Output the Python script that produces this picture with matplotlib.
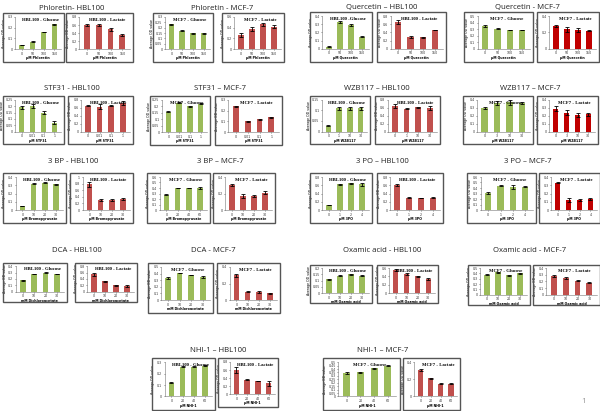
import matplotlib
matplotlib.use('Agg')
import numpy as np
from matplotlib import pyplot as plt
from matplotlib.patches import Rectangle

W, H = 600, 411
GREEN = '#9BBB59'
RED = '#C0504D'
DRED = '#C00000'

# DOSES (x tick labels)
phl_doses = ['0', '50', '100', '150']
que_doses = ['0', '50', '100', '150']
stf_doses = ['0', '0.01', '0.1', '1']
wzb_hbl_doses = ['0', '1', '10', '30']
wzb_mcf_doses = ['0', '3', '10', '30']
bp_doses = ['0', '10', '20', '30']
bp_mcf_glc_doses = ['0', '20', '40', '60']
po_doses = ['0', '1', '2', '4']
dca_doses = ['0', '10', '20', '30']
oxa_doses = ['0', '10', '20', '30']
nhi_doses = ['0', '20', '40', '60']

# VALUES (average OD) AND ERRORS
phl_hbl_glc = [0.04, 0.07, 0.16, 0.23]; phl_hbl_glc_err = [0.003, 0.004, 0.004, 0.008]
phl_hbl_lac = [0.60, 0.60, 0.49, 0.35]; phl_hbl_lac_err = [0.02, 0.02, 0.03, 0.02]
phl_mcf_glc = [0.23, 0.17, 0.15, 0.15]; phl_mcf_glc_err = [0.005, 0.005, 0.004, 0.004]
phl_mcf_lac = [0.27, 0.38, 0.46, 0.42]; phl_mcf_lac_err = [0.04, 0.04, 0.03, 0.03]
que_hbl_glc = [0.03, 0.33, 0.29, 0.15]; que_hbl_glc_err = [0.004, 0.01, 0.01, 0.01]
que_hbl_lac = [0.65, 0.29, 0.28, 0.46]; que_hbl_lac_err = [0.05, 0.02, 0.01, 0.01]
que_mcf_glc = [0.35, 0.31, 0.29, 0.29]; que_mcf_glc_err = [0.01, 0.005, 0.005, 0.005]
que_mcf_lac = [0.28, 0.24, 0.23, 0.22]; que_mcf_lac_err = [0.01, 0.03, 0.02, 0.005]

stf_hbl_glc = [0.19, 0.20, 0.15, 0.07]; stf_hbl_glc_err = [0.015, 0.015, 0.015, 0.01]
stf_hbl_lac = [0.65, 0.63, 0.65, 0.72]; stf_hbl_lac_err = [0.01, 0.07, 0.01, 0.06]
stf_mcf_glc = [0.16, 0.23, 0.20, 0.22]; stf_mcf_glc_err = [0.004, 0.005, 0.004, 0.005]
stf_mcf_lac = [0.24, 0.10, 0.12, 0.14]; stf_mcf_lac_err = [0.004, 0.004, 0.005, 0.005]
wzb_hbl_glc = [0.028, 0.11, 0.11, 0.11]; wzb_hbl_glc_err = [0.001, 0.008, 0.006, 0.007]
wzb_hbl_lac = [0.65, 0.58, 0.61, 0.60]; wzb_hbl_lac_err = [0.05, 0.01, 0.02, 0.05]
wzb_mcf_glc = [0.30, 0.36, 0.37, 0.36]; wzb_mcf_glc_err = [0.01, 0.02, 0.03, 0.01]
wzb_mcf_lac = [0.29, 0.24, 0.21, 0.22]; wzb_mcf_lac_err = [0.03, 0.03, 0.03, 0.02]

bp_hbl_glc = [0.05, 0.32, 0.33, 0.31]; bp_hbl_glc_err = [0.003, 0.006, 0.006, 0.006]
bp_hbl_lac = [0.78, 0.30, 0.30, 0.33]; bp_hbl_lac_err = [0.08, 0.02, 0.03, 0.03]
bp_mcf_glc = [0.28, 0.40, 0.40, 0.40]; bp_mcf_glc_err = [0.005, 0.005, 0.005, 0.02]
bp_mcf_lac = [0.30, 0.17, 0.17, 0.21]; bp_mcf_lac_err = [0.01, 0.02, 0.01, 0.02]
po_hbl_glc = [0.12, 0.62, 0.65, 0.62]; po_hbl_glc_err = [0.005, 0.01, 0.01, 0.04]
po_hbl_lac = [0.60, 0.30, 0.29, 0.30]; po_hbl_lac_err = [0.03, 0.01, 0.005, 0.01]
po_mcf_glc = [0.31, 0.44, 0.42, 0.42]; po_mcf_glc_err = [0.01, 0.01, 0.03, 0.01]
po_mcf_lac = [0.33, 0.12, 0.12, 0.13]; po_mcf_lac_err = [0.004, 0.02, 0.01, 0.01]

dca_hbl_glc = [0.18, 0.28, 0.30, 0.28]; dca_hbl_glc_err = [0.005, 0.005, 0.005, 0.005]
dca_hbl_lac = [0.55, 0.33, 0.20, 0.18]; dca_hbl_lac_err = [0.05, 0.01, 0.02, 0.02]
dca_mcf_glc = [0.33, 0.41, 0.38, 0.35]; dca_mcf_glc_err = [0.015, 0.005, 0.005, 0.02]
dca_mcf_lac = [0.30, 0.10, 0.10, 0.08]; dca_mcf_lac_err = [0.02, 0.005, 0.015, 0.005]
oxa_hbl_glc = [0.11, 0.14, 0.15, 0.14]; oxa_hbl_glc_err = [0.005, 0.005, 0.005, 0.005]
oxa_hbl_lac = [0.55, 0.45, 0.40, 0.34]; oxa_hbl_lac_err = [0.03, 0.02, 0.02, 0.02]
oxa_mcf_glc = [0.38, 0.42, 0.37, 0.40]; oxa_mcf_glc_err = [0.01, 0.01, 0.01, 0.01]
oxa_mcf_lac = [0.28, 0.25, 0.21, 0.18]; oxa_mcf_lac_err = [0.01, 0.01, 0.01, 0.01]

nhi_hbl_glc = [0.12, 0.26, 0.26, 0.27]; nhi_hbl_glc_err = [0.003, 0.006, 0.006, 0.006]
nhi_hbl_lac = [0.60, 0.36, 0.33, 0.27]; nhi_hbl_lac_err = [0.08, 0.01, 0.01, 0.07]
nhi_mcf_glc = [0.34, 0.35, 0.41, 0.45]; nhi_mcf_glc_err = [0.01, 0.01, 0.005, 0.01]
nhi_mcf_lac = [0.31, 0.21, 0.15, 0.15]; nhi_mcf_lac_err = [0.01, 0.005, 0.01, 0.01]

# SECTION TITLES (text, x centre, y) in pixels
titles = [
    ('Phloretin- HBL100', 72, 8), ('Phloretin - MCF-7', 222, 8),
    ('Quercetin \u2013 HBL100', 382, 8), ('Quercetin - MCF-7', 527, 8),
    ('STF31 - HBL100', 72, 88), ('STF31 \u2013 MCF-7', 220, 88),
    ('WZB117 \u2013 HBL100', 377, 88), ('WZB117 \u2013 MCF-7', 530, 88),
    ('3 BP - HBL100', 73, 161), ('3 BP \u2013 MCF-7', 220, 161),
    ('3 PO \u2013 HBL100', 382, 161), ('3 PO \u2013 MCF-7', 528, 161),
    ('DCA - HBL100', 77, 250), ('DCA - MCF-7', 213, 250),
    ('Oxamic acid - HBL100', 382, 250), ('Oxamic acid - MCF-7', 530, 250),
    ('NHI-1 \u2013 HBL100', 218, 350), ('NHI-1 \u2013 MCF-7', 383, 350),
]

# PANELS: box (x0, y0, x1, y1) px, title, values, errs, doses, xlabel, ymax, ystep, colour
panels = [
    ((3, 13, 64, 62), 'HBL100 - Glucose', phl_hbl_glc, phl_hbl_glc_err, phl_doses, '\u00b5M Phloretin', 0.3, 0.1, GREEN),
    ((66, 13, 133, 62), 'HBL100 - Lactate', phl_hbl_lac, phl_hbl_lac_err, phl_doses, '\u00b5M Phloretin', 0.8, 0.2, RED),
    ((153, 13, 213, 62), 'MCF7 - Glucose', phl_mcf_glc, phl_mcf_glc_err, phl_doses, '\u00b5M Phloretin', 0.3, 0.05, GREEN),
    ((222, 13, 284, 62), 'MCF7 - Lactate', phl_mcf_lac, phl_mcf_lac_err, phl_doses, '\u00b5M Phloretin', 0.6, 0.2, RED),
    ((310, 12, 372, 62), 'HBL100 -Glucose', que_hbl_glc, que_hbl_glc_err, que_doses, '\u00b5M Quercetin', 0.4, 0.1, GREEN),
    ((377, 12, 446, 62), 'HBL100 - Lactate', que_hbl_lac, que_hbl_lac_err, que_doses, '\u00b5M Quercetin', 0.8, 0.2, RED),
    ((464, 12, 533, 62), 'MCF7 - Glucose', que_mcf_glc, que_mcf_glc_err, que_doses, '\u00b5M Quercetin', 0.5, 0.1, GREEN),
    ((537, 12, 599, 62), 'MCF7 - Lactate', que_mcf_lac, que_mcf_lac_err, que_doses, '\u00b5M Quercetin', 0.4, 0.2, DRED),

    ((3, 96, 64, 144), 'HBL100 - Glucose', stf_hbl_glc, stf_hbl_glc_err, stf_doses, '\u00b5M STF31', 0.25, 0.05, GREEN),
    ((68, 96, 133, 144), 'HBL100 - Lactate', stf_hbl_lac, stf_hbl_lac_err, stf_doses, '\u00b5M STF31', 0.8, 0.2, RED),
    ((150, 96, 210, 145), 'MCF7 - Glucose', stf_mcf_glc, stf_mcf_glc_err, stf_doses, '\u00b5M STF31', 0.25, 0.05, GREEN),
    ((215, 96, 282, 145), 'MCF7 - Lactate', stf_mcf_lac, stf_mcf_lac_err, stf_doses, '\u00b5M STF31', 0.3, 0.1, RED),
    ((310, 96, 370, 144), 'HBL100 - Glucose', wzb_hbl_glc, wzb_hbl_glc_err, wzb_hbl_doses, '\u00b5M WZB117', 0.15, 0.05, GREEN),
    ((375, 96, 440, 144), 'HBL100 - Lactate', wzb_hbl_lac, wzb_hbl_lac_err, wzb_hbl_doses, '\u00b5M WZB117', 0.8, 0.2, RED),
    ((463, 96, 533, 144), 'MCF7 - Glucose', wzb_mcf_glc, wzb_mcf_glc_err, wzb_mcf_doses, '\u00b5M WZB117', 0.4, 0.1, GREEN),
    ((537, 96, 598, 144), 'MCF7 - Lactate', wzb_mcf_lac, wzb_mcf_lac_err, wzb_mcf_doses, '\u00b5M WZB117', 0.4, 0.1, DRED),

    ((3, 173, 66, 223), 'HBL100 - Glucose', bp_hbl_glc, bp_hbl_glc_err, bp_doses, '\u00b5M Bromopyruvate', 0.4, 0.1, GREEN),
    ((70, 173, 133, 223), 'HBL100 - Lactate', bp_hbl_lac, bp_hbl_lac_err, bp_doses, '\u00b5M Bromopyruvate', 1.0, 0.2, RED),
    ((147, 173, 210, 223), 'MCF7 - Glucose', bp_mcf_glc, bp_mcf_glc_err, bp_mcf_glc_doses, '\u00b5M Bromopyruvate', 0.6, 0.1, GREEN),
    ((213, 173, 275, 223), 'MCF7 - Lactate', bp_mcf_lac, bp_mcf_lac_err, bp_doses, '\u00b5M Bromopyruvate', 0.4, 0.2, RED),
    ((310, 173, 372, 223), 'HBL100 - Glucose', po_hbl_glc, po_hbl_glc_err, po_doses, '\u00b5M 3PO', 0.8, 0.2, GREEN),
    ((377, 173, 443, 223), 'HBL100 - Lactate', po_hbl_lac, po_hbl_lac_err, po_doses, '\u00b5M 3PO', 0.8, 0.2, RED),
    ((467, 173, 536, 223), 'MCF7 - Glucose', po_mcf_glc, po_mcf_glc_err, po_doses, '\u00b5M 3PO', 0.6, 0.1, GREEN),
    ((539, 173, 600, 223), 'MCF7 - Lactate', po_mcf_lac, po_mcf_lac_err, po_doses, '\u00b5M 3PO', 0.4, 0.1, DRED),

    ((3, 263, 67, 302), 'HBL100 - Glucose', dca_hbl_glc, dca_hbl_glc_err, dca_doses, 'mM Dichloroacetate', 0.4, 0.1, GREEN),
    ((75, 263, 137, 302), 'HBL100 - Lactate', dca_hbl_lac, dca_hbl_lac_err, dca_doses, 'mM Dichloroacetate', 0.8, 0.2, RED),
    ((148, 263, 213, 313), 'MCF7 - Glucose', dca_mcf_glc, dca_mcf_glc_err, dca_doses, 'mM Dichloroacetate', 0.5, 0.1, GREEN),
    ((217, 263, 280, 313), 'MCF7 - Lactate', dca_mcf_lac, dca_mcf_lac_err, dca_doses, 'mM Dichloroacetate', 0.4, 0.2, RED),
    ((310, 265, 372, 303), 'HBL100 - Glucose', oxa_hbl_glc, oxa_hbl_glc_err, oxa_doses, 'mM Oxamic acid', 0.2, 0.05, GREEN),
    ((377, 265, 438, 303), 'HBL100 - Lactate', oxa_hbl_lac, oxa_hbl_lac_err, oxa_doses, 'mM Oxamic acid', 0.6, 0.2, RED),
    ((468, 265, 530, 305), 'MCF7 - Glucose', oxa_mcf_glc, oxa_mcf_glc_err, oxa_doses, 'mM Oxamic acid', 0.5, 0.1, GREEN),
    ((533, 265, 600, 305), 'MCF7 - Lactate', oxa_mcf_lac, oxa_mcf_lac_err, oxa_doses, 'mM Oxamic acid', 0.4, 0.1, RED),

    ((152, 358, 215, 410), 'HBL100 - Glucose', nhi_hbl_glc, nhi_hbl_glc_err, nhi_doses, '\u00b5M NHI-1', 0.3, 0.1, GREEN),
    ((218, 358, 278, 407), 'HBL100 - Lactate', nhi_hbl_lac, nhi_hbl_lac_err, nhi_doses, '\u00b5M NHI-1', 0.8, 0.2, RED),
    ((323, 358, 400, 410), 'MCF7 - Glucose', nhi_mcf_glc, nhi_mcf_glc_err, nhi_doses, '\u00b5M NHI-1', 0.5, 0.05, GREEN),
    ((403, 358, 460, 410), 'MCF7 - Lactate', nhi_mcf_lac, nhi_mcf_lac_err, nhi_doses, '\u00b5M NHI-1', 0.4, 0.2, RED),
]


def fx(x):
    return x / W


def fy(y):
    return 1 - y / H


fig = plt.figure(figsize=(6, 4.11), dpi=100)
fig.patch.set_facecolor('white')

for txt, x, y in titles:
    fig.text(fx(x), fy(y), txt, ha='center', va='center', fontsize=5.6,
             family='Open Sans', color='#222222')

for box, ttl, vals, errs, doses, xlab, ymax, ystep, col in panels:
    x0, y0, x1, y1 = box
    w, h = x1 - x0, y1 - y0
    fig.add_artist(Rectangle((fx(x0), fy(y1)), w / W, h / H, transform=fig.transFigure,
                             fill=False, edgecolor='#555555', lw=1.0))
    ax_l = x0 + 0.2 * w
    ax_r = x1 - 0.05 * w
    ax_t = y0 + 0.08 * h
    ax_b = y1 - 0.26 * h
    ax = fig.add_axes([fx(ax_l), fy(ax_b), (ax_r - ax_l) / W, (ax_b - ax_t) / H])
    xs = np.arange(len(vals))
    ax.bar(xs, vals, width=0.5, color=col, edgecolor='none')
    ax.errorbar(xs, vals, yerr=errs, fmt='none', ecolor='black', elinewidth=0.6, capsize=1.3, capthick=0.6)
    ax.set_xlim(-0.6, len(vals) - 0.4)
    ax.set_ylim(0, ymax)
    ax.set_yticks(np.arange(0, ymax + ystep / 2, ystep))
    ax.set_yticklabels(['0'] + ['%g' % t for t in np.arange(ystep, ymax + ystep / 2, ystep)])
    ax.set_xticks(xs)
    ax.set_xticklabels(doses)
    ax.tick_params(labelsize=2.3, length=1, width=0.4, pad=0.8, colors='#333333')
    for s in ['top', 'right']:
        ax.spines[s].set_visible(False)
    for s in ['left', 'bottom']:
        ax.spines[s].set_linewidth(0.4)
        ax.spines[s].set_color('#777777')
    ax.set_ylabel('Average OD value', fontsize=2.3, labelpad=1)
    ax.set_xlabel(xlab, fontsize=2.3, labelpad=0.5, fontweight='bold')
    ax.text(0.55, 0.97, ttl, transform=ax.transAxes, ha='center', va='top', fontsize=3.4,
            fontweight='bold', family='Liberation Serif')
    ax.patch.set_alpha(0)

fig.text(fx(584), fy(401), '1', fontsize=6, color='#999999', ha='center', va='center', family='Open Sans')

plt.savefig('out.png', dpi=100)
